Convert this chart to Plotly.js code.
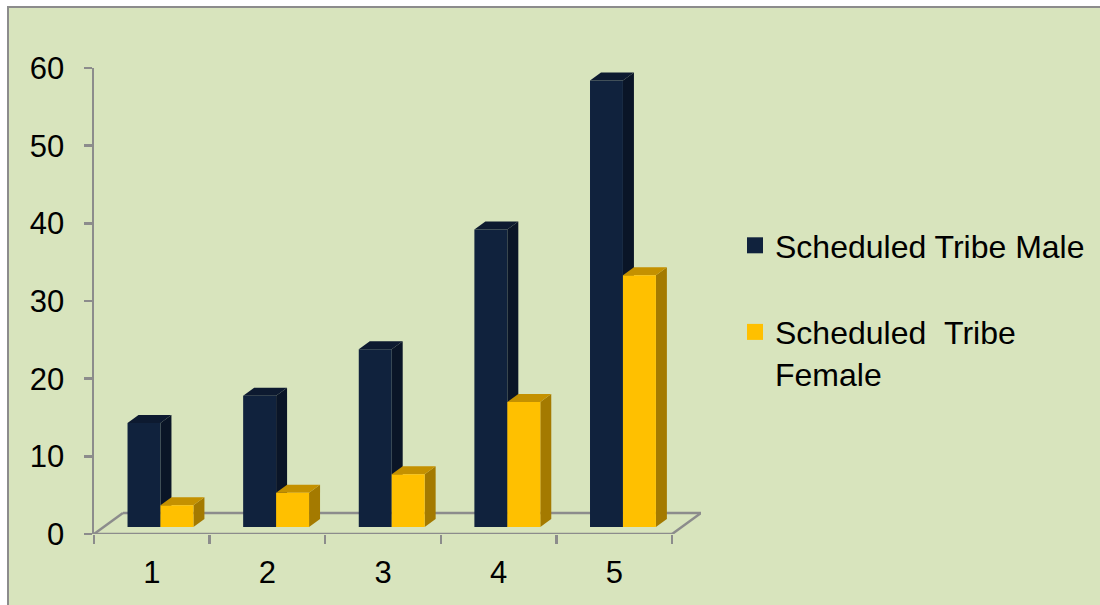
<!DOCTYPE html>
<html>
<head>
<meta charset="utf-8">
<script src="https://cdn.plot.ly/plotly-3.0.1.min.js"></script>
<style>
  html, body { margin:0; padding:0; background:#ffffff; }
  #frame { position:absolute; left:7px; top:6px; width:1100px; height:605px;
           background:#D8E4BD; border-left:2px solid #8C8C8C; border-top:2px solid #8C8C8C; }
  #chart { position:absolute; left:0; top:0; width:1100px; height:605px; }
</style>
</head>
<body>
<div id="frame"></div>
<div id="chart"></div>
<script>
// ---- data ----
var categories = ['1', '2', '3', '4', '5'];
var maleValues = [13.4, 16.9, 22.9, 38.3, 57.5];
var femaleValues = [2.8, 4.4, 6.8, 16.1, 32.4];
var seriesNames = ['Scheduled Tribe Male', 'Scheduled\u00a0\u00a0Tribe<br>Female'];
var yTicks = [0, 10, 20, 30, 40, 50, 60];

// ---- styling ----
var FONT = 'Liberation Sans, Arial, sans-serif';
var maleColors = {front:'#10223D', side:'#0A1527', top:'#0D1A30'};
var femaleColors = {front:'#FFC000', side:'#A47A00', top:'#C49100'};
var barWidth = 0.285, maleOffset = -0.21, femaleOffset = 0.075;
var depthX = 0.095, depthY = 1.03;     // 3D depth of each bar (x units, y2 units)
var floorDX = 0.25, floorDY = 2.7;     // depth of floor
var xPos = categories.map(function(c, i){ return i + 1; });

var traces = [
  {type:'bar', x:xPos, y:maleValues, width:barWidth, offset:maleOffset, yaxis:'y2',
   marker:{color:maleColors.front, line:{width:0}}, showlegend:false, hoverinfo:'y'},
  {type:'bar', x:xPos, y:femaleValues, width:barWidth, offset:femaleOffset, yaxis:'y2',
   marker:{color:femaleColors.front, line:{width:0}}, showlegend:false, hoverinfo:'y'},
  {type:'scatter', mode:'markers', x:[null], y:[null], xaxis:'x2', name:seriesNames[0],
   legendgroup:'a', marker:{symbol:'square', size:17, color:maleColors.front}},
  {type:'scatter', mode:'markers', x:[null], y:[null], xaxis:'x2', name:seriesNames[1],
   legendgroup:'b', marker:{symbol:'square', size:17, color:femaleColors.front}}
];

function pt(x, y){ return x.toFixed(4) + ',' + y.toFixed(4); }
var shapes = [];
// floor
var x0 = 0.5, x1 = categories.length + 0.5;
var floorStyle = {color:'#8C8C8C', width:2.5};
shapes.push({type:'line', xref:'x', yref:'y', x0:x0, y0:0, x1:x1, y1:0, line:floorStyle, layer:'below'});
shapes.push({type:'line', xref:'x', yref:'y', x0:x0, y0:0, x1:x0+floorDX, y1:floorDY, line:floorStyle, layer:'below'});
shapes.push({type:'line', xref:'x', yref:'y', x0:x0+floorDX, y0:floorDY, x1:x1+floorDX, y1:floorDY, line:floorStyle, layer:'below'});
shapes.push({type:'line', xref:'x', yref:'y', x0:x1, y0:0, x1:x1+floorDX, y1:floorDY, line:floorStyle, layer:'below'});

function addBox(xc, off, v, col){
  var xl = xc + off, xr = xl + barWidth;
  shapes.push({type:'path', xref:'x', yref:'y2', layer:'below', fillcolor:col.side, line:{width:0},
    path:'M' + pt(xr,0) + 'L' + pt(xr+depthX, depthY) + 'L' + pt(xr+depthX, v+depthY) + 'L' + pt(xr, v) + 'Z'});
  shapes.push({type:'path', xref:'x', yref:'y2', layer:'below', fillcolor:col.top, line:{width:0},
    path:'M' + pt(xl,v) + 'L' + pt(xl+depthX, v+depthY) + 'L' + pt(xr+depthX, v+depthY) + 'L' + pt(xr, v) + 'Z'});
}
xPos.forEach(function(xc, i){ addBox(xc, maleOffset, maleValues[i], maleColors); });
xPos.forEach(function(xc, i){ addBox(xc, femaleOffset, femaleValues[i], femaleColors); });

var layout = {
  width:1100, height:605,
  margin:{l:94, r:399, t:68, b:71, pad:0},
  paper_bgcolor:'rgba(0,0,0,0)', plot_bgcolor:'rgba(0,0,0,0)',
  font:{family:FONT, color:'#000000', size:31},
  barmode:'overlay',
  xaxis:{range:[0.5, categories.length + 0.75], tickvals:[0.5,1.5,2.5,3.5,4.5,5.5],
         ticks:'outside', ticklen:9, tickwidth:2.5, tickcolor:'#8C8C8C',
         showticklabels:false, showgrid:false, zeroline:false, showline:false, fixedrange:true},
  xaxis2:{overlaying:'x', anchor:'y', side:'bottom', range:[0.5, categories.length + 0.75],
          tickvals:xPos, ticktext:categories, ticks:'', ticklabelstandoff:17,
          tickfont:{size:31, family:FONT, color:'#000'},
          showgrid:false, zeroline:false, showline:false, fixedrange:true},
  yaxis:{range:[0, 60], tickvals:yTicks, ticks:'outside', ticklen:8, tickwidth:2.5, tickcolor:'#8C8C8C',
         showline:true, linecolor:'#8C8C8C', linewidth:2.5, showgrid:false, zeroline:false,
         ticklabelstandoff:13, tickfont:{size:31, family:FONT, color:'#000'}, fixedrange:true},
  yaxis2:{overlaying:'y', range:[-0.9, 59.1], visible:false, fixedrange:true},
  showlegend:true,
  legend:{xref:'container', yref:'container', x:735/1100, y:1-218/605, xanchor:'left', yanchor:'top',
          font:{size:32, family:FONT, color:'#000'}, bgcolor:'rgba(0,0,0,0)',
          traceorder:'grouped', tracegroupgap:42, valign:'top'},
  shapes:shapes
};

Plotly.newPlot('chart', traces, layout, {displayModeBar:false, staticPlot:true});
</script>
</body>
</html>
